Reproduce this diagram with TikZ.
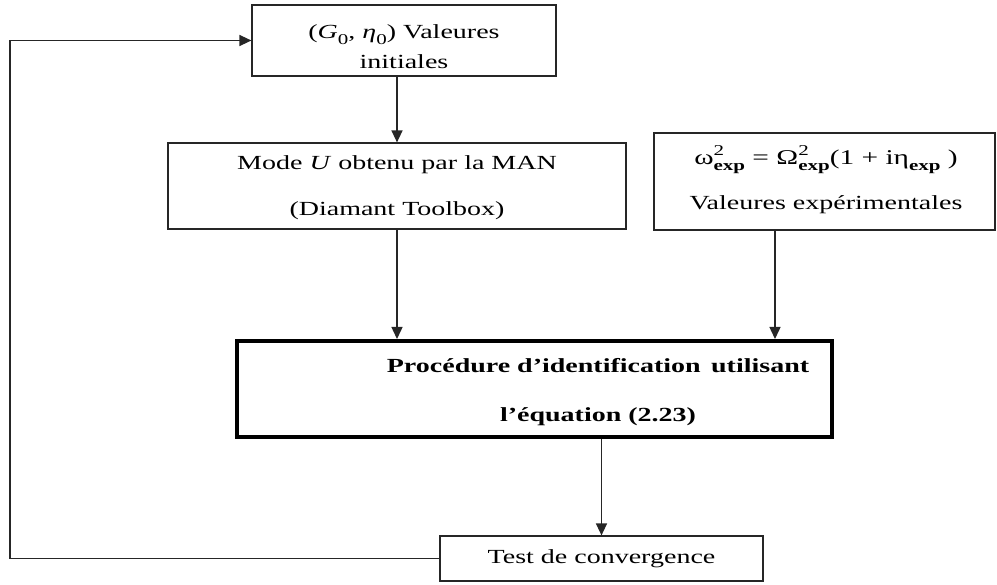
\documentclass[tikz,border=0pt]{standalone}
\usepackage{fontspec}
\setmainfont{Liberation Serif}[FakeStretch=1.4]
\usetikzlibrary{arrows.meta}
\newcommand\smallsz{\fontsize{15}{15}\selectfont}
\newcommand\mysubsup[2]{\rlap{\raisebox{0.42em}{\smallsz #1}}\raisebox{-0.28em}{\smallsz\bfseries #2}}
\newcommand\mysub[1]{\raisebox{-0.28em}{\smallsz #1}}
\begin{document}
\begin{tikzpicture}[x=1pt,y=-1pt,
  box/.style={draw=black!85,line width=1.2pt,rectangle,inner sep=0pt},
  bigbox/.style={draw=black,line width=4pt,rectangle,inner sep=0pt},
  txt/.style={align=center,font=\fontsize{20}{30}\selectfont},
  arr/.style={draw=black!85,line width=1.4pt,-{Triangle[length=12pt,width=11pt]}}]
\useasboundingbox (0,0) rectangle (997,585);
\node[box,minimum width=304pt,minimum height=71pt] (b1) at (404,40.5) {};
\node[txt] (t1) at (404,47) {(\textit{G}\mysub{0}, \textit{η}\mysub{0}) Valeures\\initiales};
\node[box,minimum width=458pt,minimum height=86pt] (b2) at (397,186) {};
\node[txt,font=\fontsize{20}{46}\selectfont] (t2) at (397,188) {Mode \textit{U} obtenu par la MAN\\(Diamant Toolbox)};
\node[box,minimum width=341pt,minimum height=97pt] (b3) at (824.5,181.5) {};
\node[txt,font=\fontsize{20}{45}\selectfont] (t3) at (826,180) {{\fontsize{21}{21}\selectfont ω\mysubsup{2}{exp} = Ω\mysubsup{2}{exp}(1 + iη\mysub{\bfseries exp} )}\\Valeures expérimentales};
\node[bigbox,minimum width=595pt,minimum height=96pt] (big) at (534.5,389) {};
\node[txt,font=\bfseries\fontsize{20}{49}\selectfont] (t4) at (598,392) {Procédure d’identification\, utilisant\\l’équation (2.23)};
\node[box,minimum width=323pt,minimum height=45pt] (test) at (601.5,558.5) {};
\node[txt] (t5) at (601.5,558.5) {Test de convergence};
\coordinate (fb) at (10,300);
\draw[arr] (b2.north |- b1.south) -- (b2.north);
\draw[arr] (b2.south) -- (b2.south |- big.north);
\draw[arr] ([xshift=-49.5pt]b3.south) -- ([xshift=-49.5pt]b3.south |- big.north);
\draw[arr] (test.north |- big.south) -- (test.north);
\draw[arr] (test.west) -| (fb) |- (b1.west);
\end{tikzpicture}
\end{document}
